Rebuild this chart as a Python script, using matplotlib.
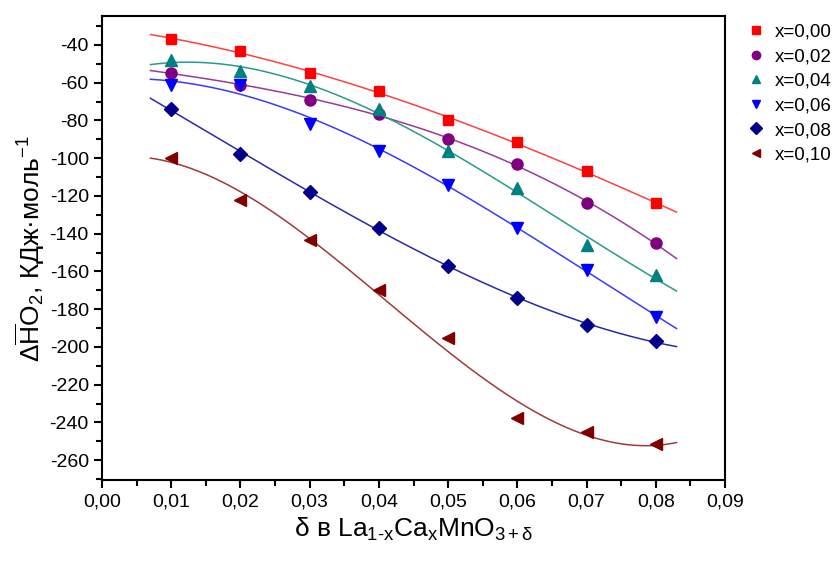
import numpy as np
import matplotlib.pyplot as plt
from matplotlib.ticker import MultipleLocator, FormatStrFormatter, FuncFormatter

plt.rcParams['font.family'] = ['Liberation Sans', 'DejaVu Sans']
plt.rcParams['mathtext.fontset'] = 'custom'
plt.rcParams['mathtext.rm'] = 'Liberation Sans'
plt.rcParams['mathtext.it'] = 'Liberation Sans'

# delta values
delta = [0.01, 0.02, 0.03, 0.04, 0.05, 0.06, 0.07, 0.08]

# enthalpy for each composition x
labels = ["x=0,00", "x=0,02", "x=0,04", "x=0,06", "x=0,08", "x=0,10"]
h_000 = [-37, -43, -55, -64.5, -80, -91.5, -107, -124]
h_002 = [-55, -61, -69, -76.5, -90, -103, -124, -145]
h_004 = [-48, -54, -62, -74, -96, -116, -146, -162]
h_006 = [-61, -61, -82, -96, -114, -137, -159, -184]
h_008 = [-74, -98, -118, -137, -157, -174, -188.5, -197]
h_010 = [-100, -122, -143.5, -170, -195.5, -237.5, -245, -251.5]

series = [h_000, h_002, h_004, h_006, h_008, h_010]
markers = ["s", "o", "^", "v", "D", "<"]
colors = ["#ff0000", "#800080", "#008080", "#0000ff", "#00008b", "#800000"]
line_colors = ["#ff4040", "#9a3a9a", "#2a9a8a", "#3a3aff", "#2a2aa8", "#a03a3a"]
msizes = [7, 8, 8, 8, 7.5, 8]

fig = plt.figure(figsize=(8.39, 5.65), dpi=100)
ax = fig.add_axes([0.1216, 0.150, 0.7425, 0.822])

xs = np.linspace(0.007, 0.083, 200)
for h, m, c, lc, ms, lab in zip(series, markers, colors, line_colors, msizes, labels):
    p = np.polyfit(delta, h, 3)
    ax.plot(xs, np.polyval(p, xs), "-", color=lc, lw=1.1)
    ax.plot(delta, h, m, color=c, ms=ms, ls="none", label=lab)

ax.set_xlim(0, 0.09)
ax.set_ylim(-270.6, -24.6)
ax.xaxis.set_major_locator(MultipleLocator(0.01))
ax.xaxis.set_minor_locator(MultipleLocator(0.005))
ax.yaxis.set_major_locator(MultipleLocator(20))
ax.yaxis.set_minor_locator(MultipleLocator(10))
ax.xaxis.set_major_formatter(FuncFormatter(lambda v, pos: ("%.2f" % v).replace(".", ",")))
ax.yaxis.set_major_formatter(FormatStrFormatter("%d"))

for s in ax.spines.values():
    s.set_linewidth(1.5)
ax.tick_params(which="both", direction="out", top=False, right=False, width=1.5, labelsize=14)
ax.tick_params(which="major", length=6)
ax.tick_params(which="minor", length=4)

ax.set_xlabel(r"δ в La$_{\mathrm{1\text{-}x}}$Ca$_{\mathrm{x}}$MnO$_{\mathrm{3+δ}}$", fontsize=19, labelpad=4)
ax.set_ylabel(r"$\Delta\overline{\mathrm{H}}\mathrm{O}_2$, КДж·моль$^{-1}$", fontsize=19, labelpad=2)

ax.legend(loc="upper left", bbox_to_anchor=(1.005, 1.02), frameon=False, fontsize=13.5,
          handletextpad=0.4, labelspacing=0.4, handlelength=1.2, markerscale=0.75)

fig.savefig("out.png", dpi=100)
